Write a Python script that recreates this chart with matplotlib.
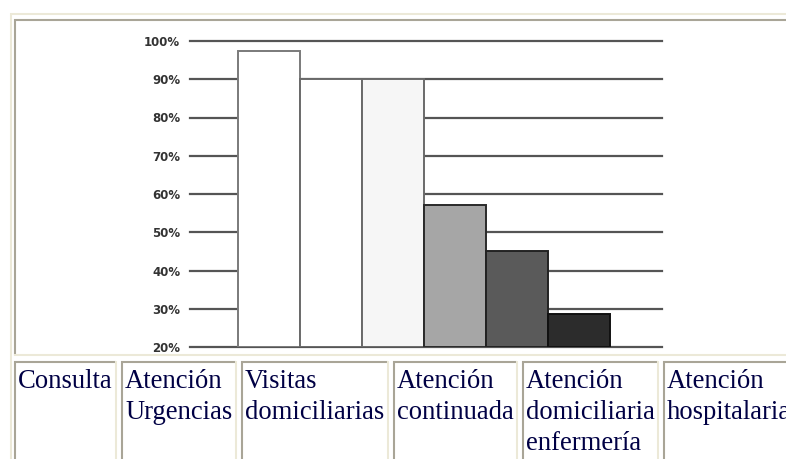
import matplotlib
matplotlib.use("Agg")
import matplotlib.pyplot as plt
from matplotlib.lines import Line2D

W, H = 786, 459

# ---- data ----
categories = ["Consulta", "Atención\nUrgencias", "Visitas\ndomiciliarias",
              "Atención\ncontinuada", "Atención\ndomiciliaria\nenfermería",
              "Atención\nhospitalaria"]
values = [97.5, 90, 90, 57, 45, 28.5]
tick_values = [20, 30, 40, 50, 60, 70, 80, 90, 100]
tick_labels = ["20%", "30%", "40%", "50%", "60%", "70%", "80%", "90%", "100%"]

bar_colors = ["#ffffff", "#ffffff", "#f6f6f6", "#a6a6a6", "#5a5a5a", "#2c2c2c"]
edge_colors = ["#7a7a7a", "#6a6a6a", "#6a6a6a", "#2a2a2a", "#222222", "#111111"]

fig = plt.figure(figsize=(W / 100, H / 100), dpi=100)
fig.patch.set_facecolor("white")

def fx(x):
    return x / W

def fy(y):
    return 1 - y / H

# ---- chart axes (pixel placement) ----
ax_l, ax_r, ax_t, ax_b = 190, 662, 41, 347
ax = fig.add_axes([fx(ax_l), fy(ax_b), (ax_r - ax_l) / W, (ax_b - ax_t) / H])
ax.set_facecolor("none")
ax.set_ylim(20, 100)
ax.set_xlim(-1.274, 6.339)
for s in ax.spines.values():
    s.set_visible(False)

for v in tick_values:
    ax.axhline(v, color="#555555", lw=1.6, zorder=1, clip_on=False)

x = list(range(len(values)))
bottoms = [20] * len(values)
heights = [v - 20 for v in values]
ax.bar(x, heights, bottom=bottoms, width=1.0, color=bar_colors,
       edgecolor=edge_colors, linewidth=1.4, zorder=2, align="center")

ax.set_xticks([])
ax.set_yticks(tick_values)
ax.set_yticklabels(tick_labels, fontsize=8.5, fontweight="bold",
                   color="#333333", family="DejaVu Sans")
ax.tick_params(axis="y", length=0, pad=7)

# ---- table borders ----
LIGHT = "#ece9d8"
DARK = "#a9a597"
LW = 1.5

def hline(y, x0, x1, c):
    fig.add_artist(Line2D([fx(x0), fx(x1)], [fy(y), fy(y)], color=c, lw=LW,
                          transform=fig.transFigure, solid_capstyle="butt"))

def vline(x, y0, y1, c):
    fig.add_artist(Line2D([fx(x), fx(x)], [fy(y0), fy(y1)], color=c, lw=LW,
                          transform=fig.transFigure, solid_capstyle="butt"))

# outer table (light top/left)
hline(14, 10, W, LIGHT)
vline(11, 13, H, LIGHT)

# chart cell (dark top/left, light bottom)
hline(20, 14, W, DARK)
vline(15, 19, 356, DARK)
hline(355, 14, W, LIGHT)

# label cells
cells = [(14, 116), (121, 236), (241, 388), (393, 517), (522, 658), (663, 800)]
for (l, r), lab in zip(cells, categories):
    hline(362, l, min(r, W), DARK)
    vline(l + 1, 361, H, DARK)
    if r < W:
        vline(r, 361, H, LIGHT)
    for i, line in enumerate(lab.split("\n")):
        fig.text(fx(l + 4), fy(388 + 31 * i), line, ha="left", va="baseline",
                 family="Liberation Serif", fontsize=19.2, color="#000044")

fig.savefig("out.png", dpi=100, facecolor="white")
